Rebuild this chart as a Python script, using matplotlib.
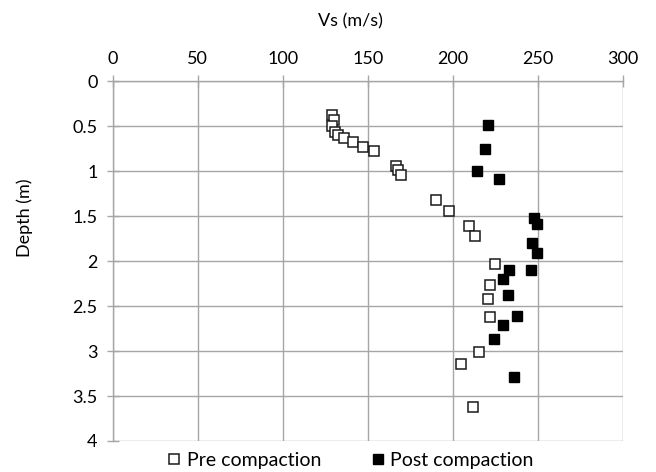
import matplotlib
matplotlib.use("Agg")
import matplotlib.pyplot as plt
from matplotlib.ticker import FuncFormatter

plt.rcParams['font.family'] = ['Lato', 'DejaVu Sans']

# Velocidade de onda cisalhante (m/s) e profundidade (m) - antes da compactação
vs_pre = [128.8, 130.2, 129.2, 130.8, 132.8, 136.2, 141.2, 147.0, 153.5,
          166.6, 168.0, 169.6, 190.2, 198.0, 209.6, 213.1, 224.9, 222.0,
          221.0, 222.0, 215.6, 204.9, 212.1]
depth_pre = [0.37, 0.43, 0.50, 0.56, 0.60, 0.63, 0.68, 0.73, 0.78,
             0.94, 0.99, 1.04, 1.32, 1.44, 1.61, 1.72, 2.03, 2.27,
             2.42, 2.62, 3.01, 3.14, 3.62]

# Depois da compactação
vs_post = [220.6, 219.0, 214.5, 227.4, 247.8, 249.4, 246.5, 249.8, 233.3,
           246.1, 229.4, 232.4, 238.0, 229.4, 224.5, 236.0]
depth_post = [0.49, 0.75, 1.00, 1.09, 1.52, 1.59, 1.80, 1.91, 2.10,
              2.10, 2.20, 2.38, 2.61, 2.71, 2.87, 3.29]

x_ticks = [0, 50, 100, 150, 200, 250, 300]
y_ticks = [0, 0.5, 1, 1.5, 2, 2.5, 3, 3.5, 4]

fig = plt.figure(figsize=(6.56, 4.72), dpi=100)
ax = fig.add_axes([0.1718, 0.0657, 0.7774, 0.7621])

cinza = "#a6a6a6"

ax.plot(vs_pre, depth_pre, linestyle="none", marker="s", markersize=7.4,
        markerfacecolor="white", markeredgecolor="#1a1a1a", markeredgewidth=1.1,
        label="Pre compaction", zorder=3)
ax.plot(vs_post, depth_post, linestyle="none", marker="s", markersize=7.4,
        markerfacecolor="black", markeredgecolor="black",
        label="Post compaction", zorder=4)

# Eixo X no topo e profundidade crescendo para baixo
ax.set_xlim(0, 300)
ax.set_ylim(4, 0)
ax.set_xticks(x_ticks)
ax.set_yticks(y_ticks)
ax.yaxis.set_major_formatter(FuncFormatter(lambda v, p: f"{v:g}"))
ax.xaxis.tick_top()
ax.xaxis.set_label_position("top")

ax.grid(True, color=cinza, linewidth=1.0)
ax.set_axisbelow(True)
for lado in ["right", "bottom"]:
    ax.spines[lado].set_visible(False)
for lado in ["left", "top"]:
    ax.spines[lado].set_color(cinza)
    ax.spines[lado].set_linewidth(1.0)

ax.tick_params(axis="both", direction="inout", length=8, width=1.0,
               color=cinza, labelsize=13, labelcolor="black")
ax.tick_params(axis="x", pad=6)
ax.tick_params(axis="y", pad=7)

ax.set_xlabel("Vs (m/s)", fontsize=13)
ax.xaxis.set_label_coords(0.466, 1.153)
ax.set_ylabel("Depth (m)", fontsize=13)
ax.yaxis.set_label_coords(-0.156, 0.62)

fig.legend(loc="center", bbox_to_anchor=(0.535, 0.025), ncol=2, frameon=False,
           fontsize=14, handlelength=0.6, handletextpad=0.35, columnspacing=2.6,
           markerscale=0.95)

fig.savefig("out.png", dpi=100)
